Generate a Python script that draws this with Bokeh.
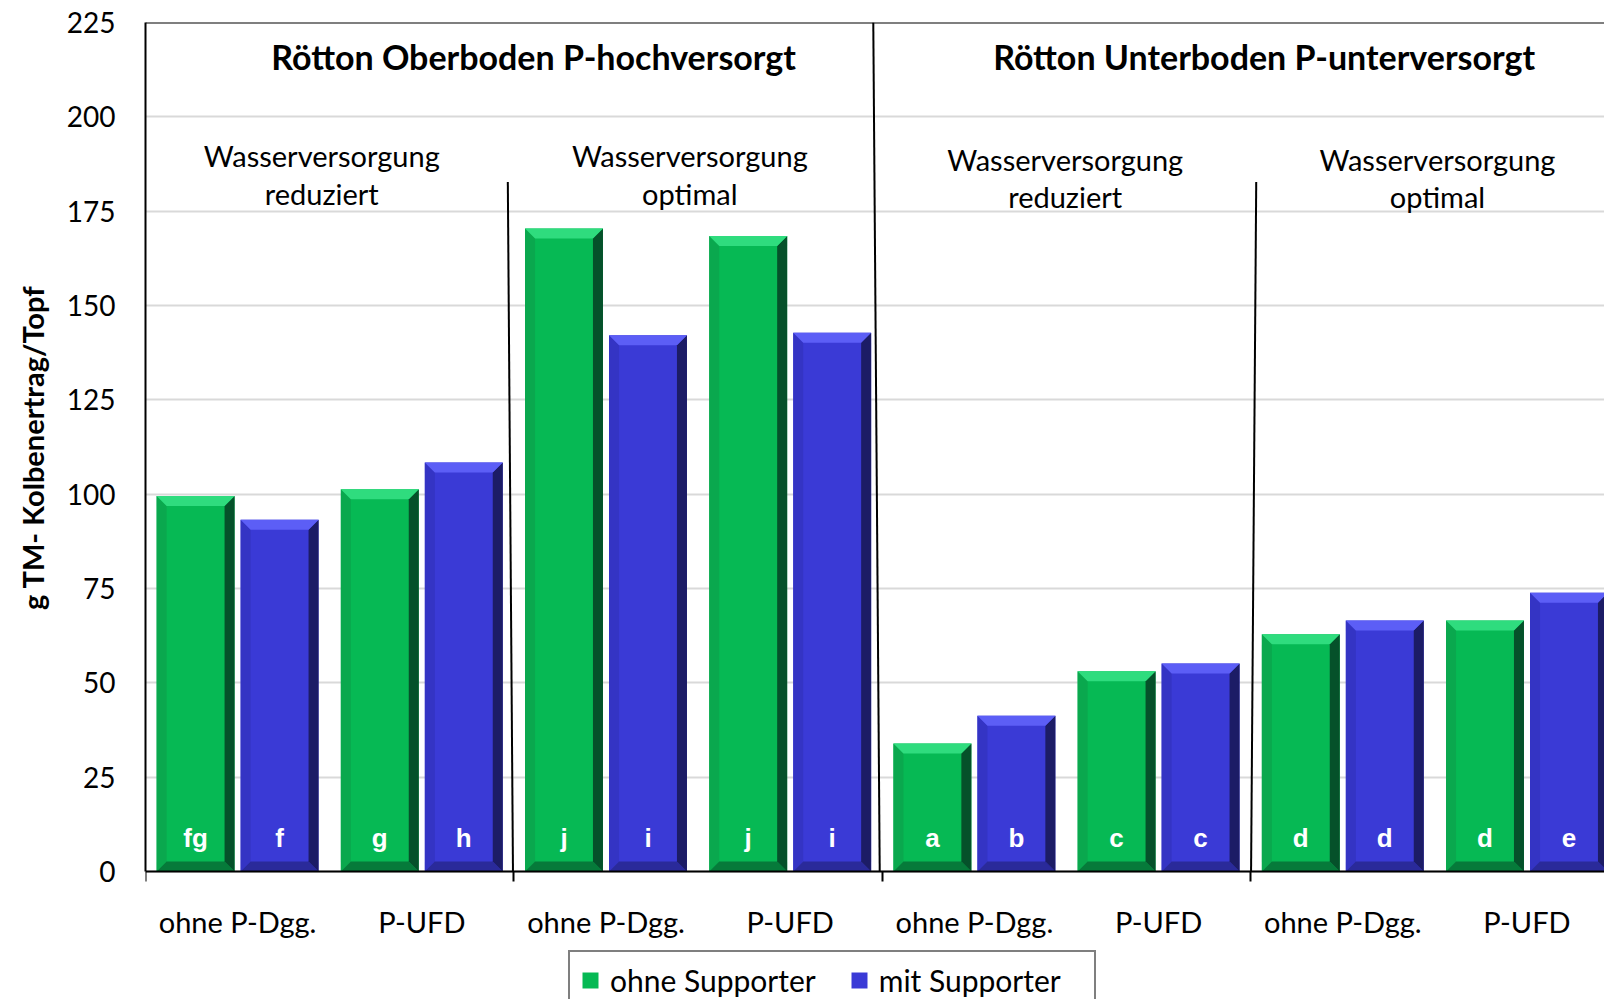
from bokeh.plotting import figure
from bokeh.models import ColumnDataSource, FixedTicker, Span, Legend, LegendItem, Range1d, Title
from bokeh.embed import file_html
from bokeh.resources import INLINE
from bokeh.core.properties import value

# ---------------- data ----------------
categories = ["ohne P-Dgg.", "P-UFD", "ohne P-Dgg.", "P-UFD",
              "ohne P-Dgg.", "P-UFD", "ohne P-Dgg.", "P-UFD"]
ohne_supporter = [99.5, 101.3, 170.4, 168.4, 33.9, 53.1, 62.9, 66.5]
mit_supporter = [93.2, 108.4, 142.1, 142.8, 41.3, 55.1, 66.5, 73.9]
letters_ohne = ["fg", "g", "j", "j", "a", "c", "d", "d"]
letters_mit = ["f", "h", "i", "i", "b", "c", "d", "e"]
series_names = ["ohne Supporter", "mit Supporter"]
section_titles = ["Rötton Oberboden P-hochversorgt", "Rötton Unterboden P-unterversorgt"]
water_labels = ["Wasserversorgung\nreduziert", "Wasserversorgung\noptimal",
                "Wasserversorgung\nreduziert", "Wasserversorgung\noptimal"]
y_ticks = [0, 25, 50, 75, 100, 125, 150, 175, 200, 225]
y_label = "g TM- Kolbenertrag/Topf"

# ---------------- layout ----------------
W, H = 1604, 999
ML, MT = 145, 22
AXIS_Y = 871                      # pixel row of the value 0
FW = W - ML
PX_PER_CAT = 184.2
x_end = FW / PX_PER_CAT
px_x = PX_PER_CAT
px_y = (AXIS_Y - MT) / 225.0
y_start = -(H - AXIS_Y) / px_y    # frame reaches the bottom of the canvas

BAR_W = 0.423
OFF = 0.228
GREEN = "#06b954"
BLUE = "#3a3ad6"
GREEN_TOP, GREEN_RIGHT, GREEN_BOT, GREEN_LEFT = "#2fdc7e", "#05512a", "#067a3a", "#0aa84e"
BLUE_TOP, BLUE_RIGHT, BLUE_BOT, BLUE_LEFT = "#5c5ef6", "#1c1c66", "#2a2a9a", "#3434c4"

centers = [i + 0.5 for i in range(len(categories))]
bounds = [0, 2, 4, 6, 8]

p = figure(width=W, height=H, output_backend="svg", toolbar_location=None,
           x_range=Range1d(0, x_end), y_range=Range1d(y_start, 225),
           min_border_left=ML, min_border_top=MT, min_border_bottom=0, min_border_right=0)
p.outline_line_color = None
p.background_fill_color = "white"
p.border_fill_color = "white"

# grid
p.xgrid.grid_line_color = None
p.ygrid.ticker = FixedTicker(ticks=y_ticks)
p.ygrid.grid_line_color = "#d9d9d9"
p.ygrid.grid_line_width = 2

# y axis
ya = p.yaxis[0]
ya.ticker = FixedTicker(ticks=y_ticks)
ya.bounds = (0, 225)
ya.major_tick_line_color = None
ya.minor_tick_line_color = None
ya.axis_line_color = "black"
ya.axis_line_width = 2
ya.major_label_text_font = "Lato"
ya.major_label_text_font_size = "28px"
ya.major_label_text_color = "black"
ya.major_label_standoff = 24

# y axis title, centred on the 0..225 span
p.add_layout(Title(text=y_label, align="right", offset=263, vertical_align="middle",
                   text_font="Lato", text_font_style="bold", text_font_size="29px",
                   text_color="black", standoff=26), "left")

# x axis, drawn at value 0 inside the frame
xa = p.xaxis[0]
xa.fixed_location = 0
xa.ticker = FixedTicker(ticks=centers, minor_ticks=bounds)
xa.major_label_overrides = {c: lab for c, lab in zip(centers, categories)}
xa.major_tick_line_color = None
xa.minor_tick_line_color = "black"
xa.minor_tick_line_width = 2
xa.minor_tick_in = 0
xa.minor_tick_out = 10
xa.axis_line_color = "black"
xa.axis_line_width = 2
xa.major_label_text_font = "Lato"
xa.major_label_text_font_size = "29px"
xa.major_label_text_color = "black"
xa.major_label_standoff = 22

# top border
p.add_layout(Span(location=225, dimension="width", line_color="black", line_width=2))


def bar_parts(xs, vals):
    dx, dy = 10 / px_x, 10 / px_y
    top, right, bot, left = [[], []], [[], []], [[], []], [[], []]
    for xc, v in zip(xs, vals):
        L, R = xc - BAR_W / 2, xc + BAR_W / 2
        top[0].append([L, R, R - dx, L + dx]); top[1].append([v, v, v - dy, v - dy])
        right[0].append([R, R, R - dx, R - dx]); right[1].append([v, 0, dy, v - dy])
        bot[0].append([L, R, R - dx, L + dx]); bot[1].append([0, 0, dy, dy])
        left[0].append([L, L + dx, L + dx, L]); left[1].append([v, v - dy, dy, 0])
    return top, right, bot, left


renderers = []
for vals, letters, sign, body, ctop, cright, cbot, cleft in [
        (ohne_supporter, letters_ohne, -1, GREEN, GREEN_TOP, GREEN_RIGHT, GREEN_BOT, GREEN_LEFT),
        (mit_supporter, letters_mit, 1, BLUE, BLUE_TOP, BLUE_RIGHT, BLUE_BOT, BLUE_LEFT)]:
    xs = [c + sign * OFF for c in centers]
    src = ColumnDataSource(dict(x=xs, top=vals, lab=letters))
    r = p.vbar(x="x", top="top", width=BAR_W, bottom=0, source=src,
               fill_color=body, line_color=None)
    renderers.append(r)
    t, rr, b, l = bar_parts(xs, vals)
    p.patches(l[0], l[1], fill_color=cleft, line_color=None)
    p.patches(b[0], b[1], fill_color=cbot, line_color=None)
    p.patches(rr[0], rr[1], fill_color=cright, line_color=None)
    p.patches(t[0], t[1], fill_color=ctop, line_color=None)
    p.text(x="x", y=8.75, text="lab", source=src, text_color="white",
           text_font=value("Liberation Sans"), text_font_style="bold",
           text_font_size="26px", text_align="center", text_baseline="middle")

# divider lines
p.segment(x0=[3.951, 1.967, 6.030], y0=[225, 182.7, 182.7],
          x1=[3.986, 1.995, 6.002], y1=[0, 0, 0], line_color="black", line_width=2)

# section titles
p.text(x=[2.107, 6.073], y=[216, 216], text=section_titles, text_color="black",
       text_font=value("Lato"), text_font_style="bold", text_font_size="34px",
       text_align="center", text_baseline="middle")
# water supply labels
p.text(x=[0.957, 2.955, 4.993, 7.014], y=[184.7, 184.7, 183.8, 183.8], text=water_labels,
       text_color="black", text_font=value("Lato"), text_font_size="29px",
       text_align="center", text_baseline="middle", text_line_height=1.07)

legend = Legend(items=[LegendItem(label=series_names[0], renderers=[renderers[0]]),
                       LegendItem(label=series_names[1], renderers=[renderers[1]])],
                orientation="horizontal", location=(423, -11),
                label_text_font="Lato", label_text_font_size="30px", label_text_color="black",
                glyph_width=20, glyph_height=20, label_height=18, label_width=205,
                label_standoff=10, spacing=33, padding=10, margin=0,
                border_line_color="black", border_line_width=2,
                background_fill_color="white", background_fill_alpha=1)
p.add_layout(legend, "center")

open("out.html", "w").write(file_html(p, INLINE))
